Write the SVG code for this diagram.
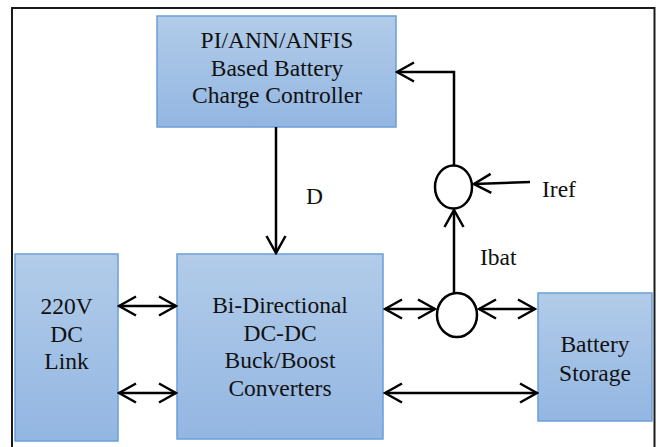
<svg xmlns="http://www.w3.org/2000/svg" width="659" height="447" viewBox="0 0 659 447">
<defs>
<linearGradient id="blue" x1="0" y1="0" x2="0" y2="1">
<stop offset="0" stop-color="#b2cce9"/>
<stop offset="1" stop-color="#93b6e2"/>
</linearGradient>
<marker id="ah" viewBox="-19 -11 21 22" refX="0" refY="0" markerWidth="21" markerHeight="22" markerUnits="userSpaceOnUse" orient="auto-start-reverse">
<path d="M-17,-9.5 L0,0 L-17,9.5" fill="none" stroke="#000" stroke-width="2.5"/>
</marker>
<style>
.box{fill:url(#blue);stroke:#6a9fd8;stroke-width:1.5}
.t{font-family:"Liberation Serif","Times New Roman",serif;font-size:23.5px;fill:#111;text-anchor:middle}
.l{font-family:"Liberation Serif","Times New Roman",serif;font-size:23.5px;fill:#111}
.c{fill:#fff;stroke:#000;stroke-width:2.5}
.a{fill:none;stroke:#000;stroke-width:2.5;marker-end:url(#ah)}
.d{fill:none;stroke:#000;stroke-width:2.5;marker-start:url(#ah);marker-end:url(#ah)}
</style>
</defs>
<rect width="659" height="447" fill="#fff"/>
<path d="M12,447 V8 H654.5 V447" fill="none" stroke="#1a1a1a" stroke-width="2"/>

<g id="controller">
<rect class="box" x="157" y="16" width="239" height="111"/>
<text class="t" x="277" y="48">PI/ANN/ANFIS</text>
<text class="t" x="277" y="76">Based Battery</text>
<text class="t" x="277" y="103">Charge Controller</text>
</g>

<g id="dclink">
<rect class="box" x="15" y="254" width="103" height="187"/>
<text class="t" x="66.5" y="314">220V</text>
<text class="t" x="66.5" y="342">DC</text>
<text class="t" x="66.5" y="369">Link</text>
</g>

<g id="converter">
<rect class="box" x="177" y="254" width="206" height="185"/>
<text class="t" x="280" y="313">Bi-Directional</text>
<text class="t" x="280" y="341">DC-DC</text>
<text class="t" x="280" y="368">Buck/Boost</text>
<text class="t" x="280" y="396">Converters</text>
</g>

<g id="battery">
<rect class="box" x="538" y="293" width="114" height="128"/>
<text class="t" x="595" y="352">Battery</text>
<text class="t" x="595" y="381">Storage</text>
</g>

<g id="sum-upper">
<ellipse class="c" cx="453.5" cy="187" rx="18.5" ry="21.5"/>
</g>

<g id="sensor-lower">
<ellipse class="c" cx="457" cy="315" rx="20" ry="22"/>
</g>

<g id="connectors">
<path class="a" d="M276,127 V253"/>
<path class="a" d="M454,165.5 V72 H397"/>
<path class="a" d="M454,293 V210"/>
<path class="a" d="M530,182 L474,184"/>
<path class="d" d="M119,306 H176"/>
<path class="d" d="M119,393 H176"/>
<path class="d" d="M385,309 H435"/>
<path class="d" d="M479,309 H535"/>
<path class="d" d="M385,393 H537"/>
</g>

<g id="labels">
<text class="l" x="306" y="204">D</text>
<text class="l" x="542" y="197">Iref</text>
<text class="l" x="480" y="265">Ibat</text>
</g>
</svg>
